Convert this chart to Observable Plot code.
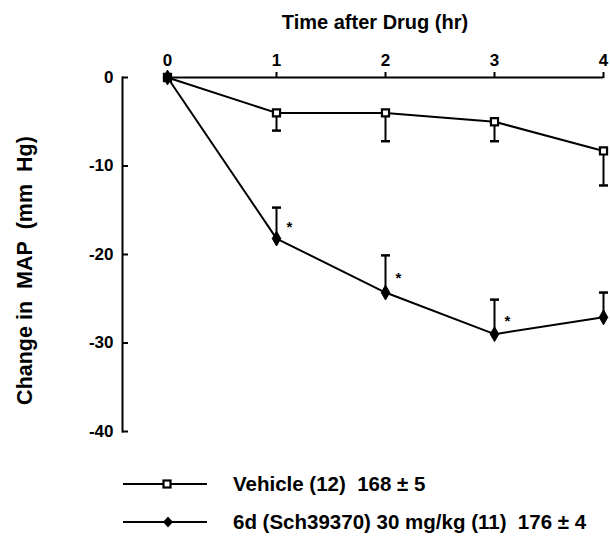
<!DOCTYPE html>
<html><head><meta charset="utf-8">
<script src="https://cdn.jsdelivr.net/npm/d3@7"></script>
<script src="https://cdn.jsdelivr.net/npm/@observablehq/plot@0.6"></script>
<style>
body{margin:0;background:#fff;font-family:"Liberation Sans",Arial,sans-serif;font-weight:bold;}
#wrap{position:relative;width:610px;height:540px;overflow:hidden;background:#fff;}
#chart{position:absolute;left:0;top:0;}
.leg{position:absolute;left:123px;height:24px;display:flex;align-items:center;font-size:20.5px;color:#000;white-space:pre;}
.leg span{margin-left:26px;}
</style></head><body><div id="wrap"><div id="chart"></div></div>
<script>
const times = [0, 1, 2, 3, 4];
const vehicleMean = [0, -4, -4, -5, -8.3];
const vehicleSem = [0, 2.0, 3.2, 2.2, 3.9];
const drugMean = [0, -18.2, -24.3, -29.0, -27.1];
const drugSem = [0, 3.5, 4.2, 3.9, 2.8];
const drugSignificant = [false, true, true, true, true];
const yTicks = [0, -10, -20, -30, -40];
const seriesLabels = ["Vehicle (12)  168 \u00B1 5", "6d (Sch39370) 30 mg/kg (11)  176 \u00B1 4"];
const xTitle = "Time after Drug (hr)";
const yTitle = "Change in\u00A0 MAP\u00A0 (mm\u00A0 Hg)";

const vehRows = times.map((t, i) => ({t, mean: vehicleMean[i], sem: vehicleSem[i], end: vehicleMean[i] - vehicleSem[i]}));
const drugRows = times.map((t, i) => ({t, mean: drugMean[i], sem: drugSem[i], end: drugMean[i] + drugSem[i], sig: drugSignificant[i]}));

const capSymbol = {draw(ctx, size) { const r = Math.sqrt(size / Math.PI); ctx.moveTo(-r, 0); ctx.lineTo(r, 0); }};

const W = 610, H = 445, mL = 122, mR = 7, mT = 77, mB = 14;
const font = '"Liberation Sans", Arial, sans-serif';

const chart = Plot.plot({
  width: W, height: H,
  marginLeft: mL, marginRight: mR, marginTop: mT, marginBottom: mB,
  x: {domain: [0, 4], insetLeft: 45},
  y: {domain: [-40, 0]},
  style: {fontFamily: font, fontWeight: "bold", fontSize: "17px", color: "black", background: "white", overflow: "visible"},
  marks: [
    Plot.frame({anchor: "left", strokeWidth: 2}),
    Plot.ruleY(yTicks, {insetRight: W - mL - mR - 6, strokeWidth: 2}),
    Plot.axisY({ticks: yTicks, tickSize: 0, tickPadding: 9, tickFormat: d => String(d), label: null, fontSize: 17}),
    Plot.ruleY([0], {x1: times[0], x2: times[times.length - 1], strokeWidth: 2}),
    Plot.axisX({anchor: "top", ticks: times, tickSize: 6, tickPadding: 6, tickFormat: d => String(d), label: null, strokeWidth: 2, fontSize: 17}),
    Plot.text([xTitle], {frameAnchor: "top", textAnchor: "middle", lineAnchor: "middle", dx: 12, dy: -55, fontSize: 20, fontWeight: "bold"}),
    Plot.text([yTitle], {frameAnchor: "left", textAnchor: "middle", lineAnchor: "middle", rotate: -90, dx: -97, dy: 16, fontSize: 21.5, fontWeight: "bold"}),
    Plot.line(vehRows, {x: "t", y: "mean", strokeWidth: 2}),
    Plot.line(drugRows, {x: "t", y: "mean", strokeWidth: 2}),
    Plot.ruleX(vehRows.filter(d => d.sem > 0), {x: "t", y1: "mean", y2: "end", strokeWidth: 2}),
    Plot.ruleX(drugRows.filter(d => d.sem > 0), {x: "t", y1: "mean", y2: "end", strokeWidth: 2}),
    Plot.dot(vehRows.filter(d => d.sem > 0), {x: "t", y: "end", symbol: capSymbol, r: 4.5, stroke: "black", fill: "none", strokeWidth: 2.5}),
    Plot.dot(drugRows.filter(d => d.sem > 0), {x: "t", y: "end", symbol: capSymbol, r: 4.5, stroke: "black", fill: "none", strokeWidth: 2.5}),
    Plot.dot(vehRows, {x: "t", y: "mean", symbol: "square", r: 4, fill: "white", stroke: "black", strokeWidth: 2.2}),
    Plot.dot(drugRows, {x: "t", y: "mean", symbol: "diamond", r: 4.5, fill: "black", stroke: "black", strokeWidth: 1}),
    Plot.text(drugRows.filter(d => d.sig), {x: "t", y: d => d.mean + d.sem / 2, text: () => "*", dx: 13, dy: 4, fontSize: 15, fontWeight: "bold"})
  ]
});
document.getElementById("chart").appendChild(chart);

// legend
const wrap = document.getElementById("wrap");
const swatches = [
  '<svg width="84" height="16"><line x1="0" x2="84" y1="8" y2="8" stroke="black" stroke-width="2"/><rect x="40.5" y="4.5" width="7" height="7" fill="white" stroke="black" stroke-width="2.2"/></svg>',
  '<svg width="84" height="16"><line x1="0" x2="84" y1="8" y2="8" stroke="black" stroke-width="2"/><path d="M45,2.5L50,8L45,13.5L40,8Z" fill="black"/></svg>'
];
const centers = [484, 522];
seriesLabels.forEach((lab, i) => {
  const row = document.createElement("div");
  row.className = "leg";
  row.style.top = (centers[i] - 12) + "px";
  row.innerHTML = swatches[i];
  const s = document.createElement("span");
  s.textContent = lab;
  row.appendChild(s);
  wrap.appendChild(row);
});
</script></body></html>
